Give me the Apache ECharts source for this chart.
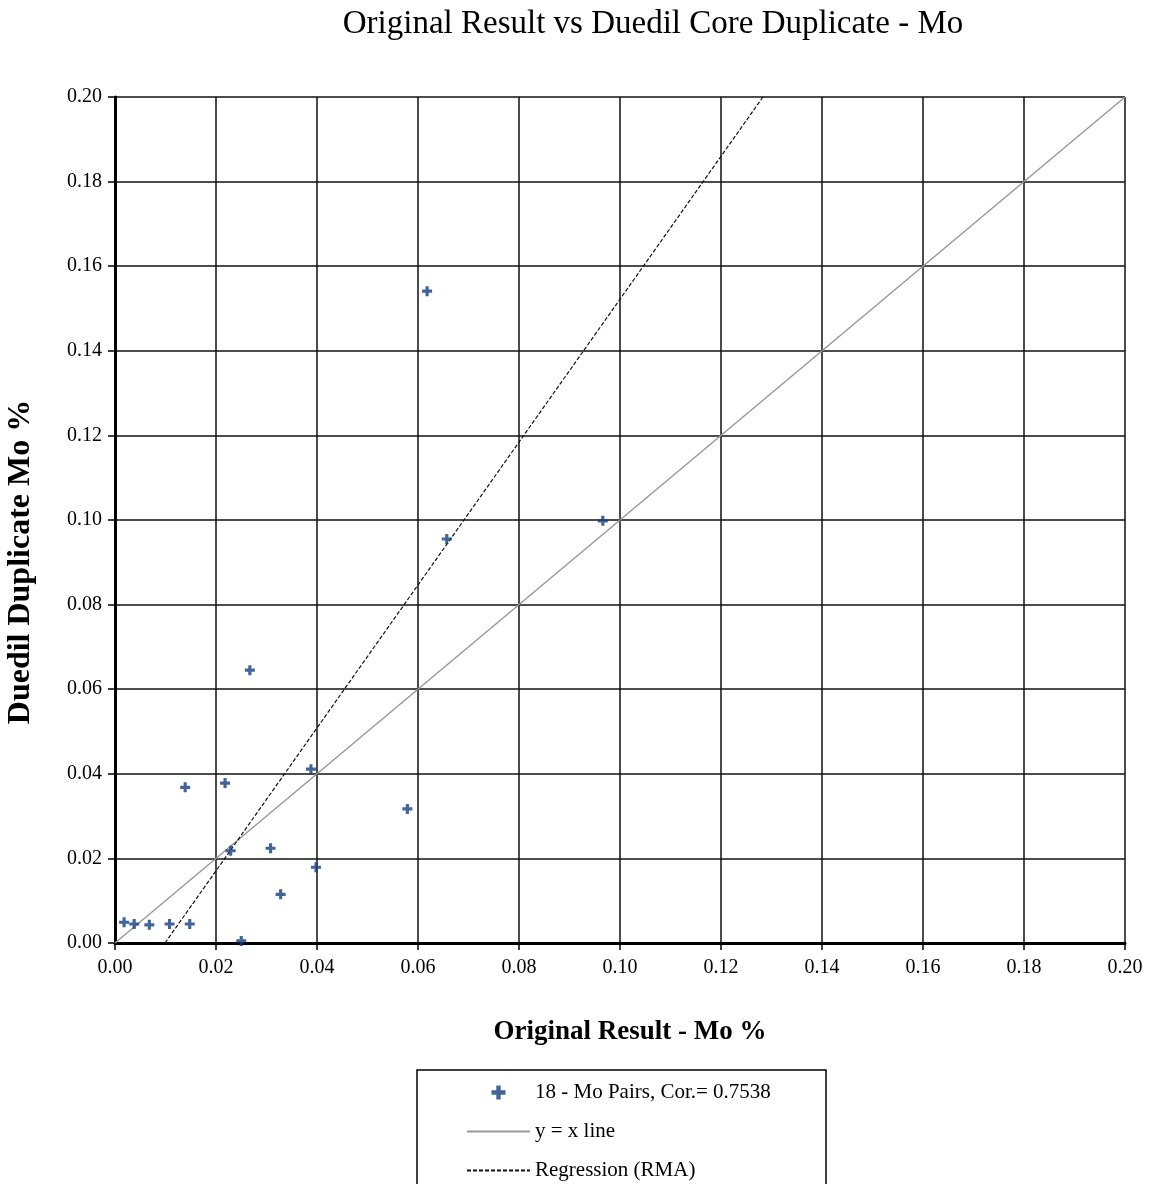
<!DOCTYPE html>
<html>
<head>
<meta charset="utf-8">
<script src="https://cdn.jsdelivr.net/npm/echarts@6/dist/echarts.min.js"></script>
<style>
  html, body { margin: 0; padding: 0; background: #fff; }
  #chart { width: 1156px; height: 1184px; }
</style>
</head>
<body>
<div id="chart"></div>
<script>
// 数据
var originalMo = [0.0018, 0.0038, 0.0068, 0.0108, 0.0148, 0.0250, 0.0139, 0.0218, 0.0388,
                  0.0579, 0.0229, 0.0308, 0.0398, 0.0328, 0.0267, 0.0618, 0.0657, 0.0966];
var duplicateMo = [0.0049, 0.0045, 0.0043, 0.0045, 0.0045, 0.0005, 0.0368, 0.0378, 0.0411,
                   0.0317, 0.0218, 0.0224, 0.0179, 0.0115, 0.0645, 0.1541, 0.0955, 0.0998];
var yxLine = [[0, 0], [0.2, 0.2]];
var rmaLine = [[0.0099, 0], [0.1283, 0.2]];
var seriesNames = ['18 - Mo Pairs, Cor.= 0.7538', 'y = x line', 'Regression (RMA)'];

var pairs = [];
for (var i = 0; i < originalMo.length; i++) {
    pairs.push([originalMo[i], duplicateMo[i]]);
}

var plus = 'path://M-1.1,-3.5 L1.1,-3.5 L1.1,-1.1 L3.5,-1.1 L3.5,1.1 L1.1,1.1 L1.1,3.5 L-1.1,3.5 L-1.1,1.1 L-3.5,1.1 L-3.5,-1.1 L-1.1,-1.1Z';
var serif = '"Liberation Serif", "DejaVu Serif", serif';

var myChart = echarts.init(document.getElementById('chart'));
var option = {
    backgroundColor: '#fff',
    animation: false,
    title: {
        text: 'Original Result vs Duedil Core Duplicate - Mo',
        left: 648,
        textAlign: 'center',
        top: 3,
        textStyle: { fontFamily: serif, fontSize: 33, fontWeight: 'normal', color: '#000' }
    },
    legend: {
        orient: 'vertical',
        left: 461,
        top: 1077,
        height: 200,
        itemWidth: 63,
        itemHeight: 14,
        itemGap: 18,
        data: [
            { name: seriesNames[0] },
            { name: seriesNames[1], itemStyle: { opacity: 0 } },
            { name: seriesNames[2], itemStyle: { opacity: 0 } }
        ],
        textStyle: { fontFamily: serif, fontSize: 21, color: '#000' }
    },
    graphic: [{
        type: 'rect',
        shape: { x: 417, y: 1070, width: 409, height: 140 },
        style: { fill: 'none', stroke: '#000', lineWidth: 1.5 },
        silent: true
    }],
    grid: { left: 115, right: 31, top: 97, bottom: 241, outerBoundsMode: 'none' },
    xAxis: {
        type: 'value',
        min: 0, max: 0.2, interval: 0.02,
        name: 'Original Result - Mo %',
        nameLocation: 'middle',
        nameGap: 76,
        nameTextStyle: { fontFamily: serif, fontSize: 27, fontWeight: 'bold', color: '#000',
                         padding: [0, 0, 0, 20] },
        axisLine: { lineStyle: { color: '#000', width: 3 } },
        axisTick: { show: true, length: 7, lineStyle: { color: '#000', width: 1.5 } },
        axisLabel: { fontFamily: serif, fontSize: 20, color: '#000', margin: 15,
                     formatter: function (v) { return v.toFixed(2); } },
        splitLine: { lineStyle: { color: '#111', width: 1.5 } }
    },
    yAxis: {
        type: 'value',
        min: 0, max: 0.2, interval: 0.02,
        name: 'Duedil Duplicate Mo %',
        nameLocation: 'middle',
        nameGap: 78,
        nameTextStyle: { fontFamily: serif, fontSize: 32, fontWeight: 'bold', color: '#000',
                         padding: [0, 84, 0, 0] },
        axisLine: { lineStyle: { color: '#000', width: 3 } },
        axisTick: { show: true, length: 7, lineStyle: { color: '#000', width: 1.5 } },
        axisLabel: { fontFamily: serif, fontSize: 20, color: '#000', margin: 13,
                     formatter: function (v) { return v.toFixed(2); } },
        splitLine: { lineStyle: { color: '#111', width: 1.5 } }
    },
    series: [
        {
            name: seriesNames[0],
            type: 'scatter',
            data: pairs,
            symbol: plus,
            symbolSize: 10,
            itemStyle: { color: '#123f7f' },
            z: 5
        },
        {
            name: seriesNames[1],
            type: 'line',
            data: yxLine,
            symbol: 'none',
            lineStyle: { color: '#999', width: 1.5 },
            itemStyle: { color: '#999' },
            z: 3
        },
        {
            name: seriesNames[2],
            type: 'line',
            data: rmaLine,
            symbol: 'none',
            lineStyle: { color: '#111', width: 1.2, type: [4, 2] },
            itemStyle: { color: '#111' },
            z: 4
        }
    ]
};
myChart.setOption(option);
</script>
</body>
</html>
